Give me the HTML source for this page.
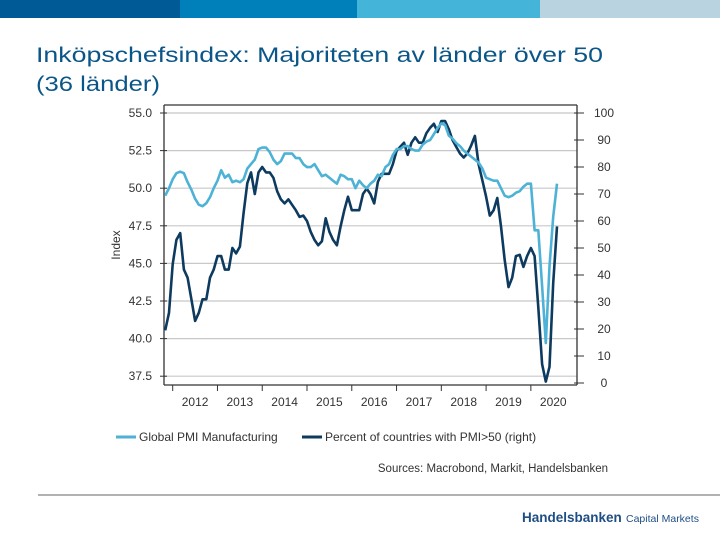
<!DOCTYPE html>
<html><head><meta charset="utf-8"><style>
body{margin:0;width:720px;height:540px;background:#fff;overflow:hidden;font-family:"Liberation Sans",sans-serif;position:relative}
.bar{position:absolute;top:0;height:18px}
</style></head><body>
<div class="bar" style="left:0;width:180px;background:#005a96"></div>
<div class="bar" style="left:180px;width:177px;background:#0080bb"></div>
<div class="bar" style="left:357px;width:183px;background:#44b4d8"></div>
<div class="bar" style="left:540px;width:180px;background:#b9d3e0"></div>
<svg width="720" height="110" style="position:absolute;left:0;top:0">
<text x="36" y="62" font-size="21" fill="#0b5688" textLength="567" lengthAdjust="spacingAndGlyphs">Inköpschefsindex: Majoriteten av länder över 50</text>
<text x="36" y="91" font-size="21" fill="#0b5688" textLength="124" lengthAdjust="spacingAndGlyphs">(36 länder)</text>
</svg>
<svg id="chart" width="720" height="540" style="position:absolute;left:0;top:0"></svg>
<script>
const years=[2012,2013,2014,2015,2016,2017,2018,2019,2020];
const leftTicks=[55.0,52.5,50.0,47.5,45.0,42.5,40.0,37.5];
const rightTicks=[100,90,80,70,60,50,40,30,20,10,0];
const startYear=2011, startMonth=10; // Nov 2011 (0-based month)
const pmi=[49.5,50.0,
50.6,51.0,51.1,51.0,50.4,49.9,49.3,48.9,48.8,49.0,49.4,50.0,
50.5,51.2,50.7,50.9,50.4,50.5,50.4,50.6,51.3,51.6,51.9,52.6,
52.7,52.7,52.4,51.9,51.6,51.8,52.3,52.3,52.3,52.0,52.0,51.6,
51.4,51.4,51.6,51.2,50.8,50.9,50.7,50.5,50.3,50.9,50.8,50.6,
50.6,50.0,50.5,50.2,50.0,50.3,50.5,50.9,50.8,51.4,51.6,52.2,
52.6,52.6,52.8,52.8,52.6,52.5,52.5,52.9,53.1,53.2,53.6,54.0,
54.3,54.2,53.5,53.3,53.0,52.8,52.5,52.3,52.1,51.9,51.7,51.3,
50.7,50.6,50.5,50.5,50.0,49.5,49.4,49.5,49.7,49.8,50.1,50.3,
50.3,47.2,47.2,43.5,39.7,44.8,48.1,50.3];
const share=[19.5,26,
44,53,55.5,42,39,31,23,26,31,31,39,42,
47,47,42,42,50,48,50.5,63,74,78,70,78,
80,78,78,76,71,68,66.5,68,66,64,61.5,62,
60,56,53,51,52.5,61,56,53,51,58,64,69,
64,64,64,70,72,70,66.5,74.5,77.5,77.5,77.5,81,
86,87.5,89,84.5,89,91,89,89,92.5,94.5,96,93,
97,97,94,90,87.5,85,83.5,85,88,91.5,81,75,
69,62,64,68.5,58,45.5,35.5,39,47,47.5,43,47,
50,47,28,7,0.5,6,37,58];
const svg=document.getElementById('chart');const NS='http://www.w3.org/2000/svg';
const X0=172.7,YW=44.77,L=164,R=577,B=385;
const x=t=>X0+(t-2012)*YW;
const yl=v=>113+(55-v)/2.5*37.6;
const yr=v=>383-v*2.7;
function el(tag,attrs,txt){const e=document.createElementNS(NS,tag);for(const k in attrs)e.setAttribute(k,attrs[k]);if(txt!==undefined)e.textContent=txt;svg.appendChild(e);return e;}
leftTicks.forEach(v=>{
 const g=el('line',{x1:L,x2:R,y1:yl(v),y2:yl(v),stroke:'#c8c8c8','stroke-width':1.2});
 
 const tk=el('line',{x1:L-4,x2:L+3,y1:yl(v),y2:yl(v),stroke:'#333'});
 
 const t=el('text',{x:L-12,y:yl(v)+4,'text-anchor':'end','font-size':12,fill:'#333'},v.toFixed(1));
 
});
rightTicks.forEach(v=>{
 const tk=el('line',{x1:R-3,x2:R+7,y1:yr(v),y2:yr(v),stroke:'#333'});
 
 const t=el('text',{x:R+27,y:yr(v)+4,'text-anchor':'middle','font-size':12,fill:'#333'},String(v));
 
});
years.forEach(yv=>{
 const tk=el('line',{x1:x(yv),x2:x(yv),y1:B,y2:B+6,stroke:'#333'});
 
 const t=el('text',{x:x(yv)+YW/2,y:B+21,'text-anchor':'middle','font-size':12,fill:'#333'},String(yv));
 
});
[['left-axis',L,105,L,B],['right-axis',R,105,R,B],['x-axis',L,B,R,B],['top-border',L,105,R,105]].forEach(a=>{
 const l=el('line',{x1:a[1],y1:a[2],x2:a[3],y2:a[4],stroke:'#333','stroke-width':1.3});
 
});
const yt=el('text',{x:120,y:245,transform:'rotate(-90 120 245)','text-anchor':'middle','font-size':12,fill:'#333'},'Index');

function tOf(i){return startYear+(startMonth+i)/12;}
function path(arr,fy,color,name){
 const d=arr.map((v,i)=>(i?'L':'M')+x(tOf(i)).toFixed(1)+','+fy(v).toFixed(1)).join('');
 const p=el('path',{d:d,fill:'none',stroke:color,'stroke-width':2.6,'stroke-linejoin':'round'});
 
}
path(share,yr,'#0d3a5f','series-share-above-50');
path(pmi,yl,'#4db2d6','series-global-pmi');
const lg1=el('line',{x1:116,x2:136,y1:437,y2:437,stroke:'#4db2d6','stroke-width':3});

const lt1=el('text',{x:139,y:441,'font-size':12,fill:'#333'},'Global PMI Manufacturing');

const lg2=el('line',{x1:302,x2:322,y1:437,y2:437,stroke:'#0d3a5f','stroke-width':3});

const lt2=el('text',{x:325,y:441,'font-size':12,fill:'#333'},'Percent of countries with PMI>50 (right)');

const src=el('text',{x:608,y:472,'text-anchor':'end','font-size':11.5,fill:'#333'},'Sources: Macrobond, Markit, Handelsbanken');

const hr=el('line',{x1:38,x2:720,y1:495,y2:495,stroke:'#666','stroke-width':1});

const lg=el('text',{x:522,y:522,'font-size':13.5,'font-weight':'bold',fill:'#1f4e85'},'Handelsbanken');

const lc=el('text',{x:626,y:522,'font-size':10.5,fill:'#1f4e85'},'Capital Markets');

</script>
</body></html>
